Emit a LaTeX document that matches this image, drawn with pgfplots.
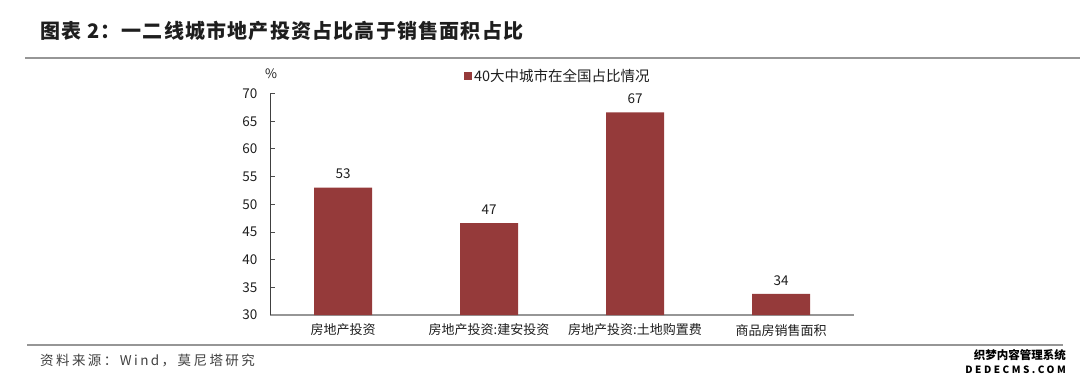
\documentclass[border=0pt]{standalone}
\usepackage{fontspec}
\setmainfont{Noto Sans CJK SC}
\usepackage{pgfplots}
\pgfplotsset{compat=1.18}
\definecolor{barc}{RGB}{149,58,58}
\definecolor{rulec}{RGB}{150,150,150}
\definecolor{txt}{RGB}{30,30,30}
\begin{document}
\begin{tikzpicture}
\path[use as bounding box] (0pt,0pt) rectangle (1080pt,386pt);
% title
\node[anchor=west, inner sep=0pt, font=\fontsize{20}{22}\selectfont\bfseries\addfontfeature{LetterSpace=6}, text=txt] at (40pt,355pt) {图表 2：一二线城市地产投资占比高于销售面积占比};
\draw[rulec, line width=1.6pt] (25pt,328pt) -- (1080pt,328pt);
\draw[rulec, line width=1.6pt] (27pt,41pt) -- (1063pt,41pt);
\node[anchor=west, inner sep=0pt, font=\fontsize{13.5}{15}\selectfont\addfontfeature{LetterSpace=18}, text=black!75] at (40pt,25pt) {资料来源：Wind，莫尼塔研究};
\node[inner sep=0pt, font=\fontsize{13}{15}\selectfont, text=txt] at (271pt,312pt) {\%};
% watermark
\node[anchor=east, inner sep=0pt, font=\fontsize{11.5}{12}\selectfont\bfseries] at (1066pt,31pt) {织梦内容管理系统};
\node[anchor=east, inner sep=0pt, font=\fontsize{10}{11}\selectfont\bfseries\addfontfeature{LetterSpace=25}] at (1066pt,16pt) {DEDECMS.COM};
\begin{axis}[
  at={(270pt,71pt)}, anchor=south west,
  scale only axis, width=584pt, height=221.5pt,
  xmin=-0.5, xmax=3.5, ymin=30, ymax=70,
  ybar, bar width=58pt,
  axis x line=bottom, axis y line=left,
  x axis line style={-, draw=rulec, line width=1.3pt},
  y axis line style={-, draw=black!75, line width=0.8pt},
  ytick={30,35,...,70},
  xtick={0,1,2,3},
  xticklabels={房地产投资,房地产投资:建安投资,房地产投资:土地购置费,商品房销售面积},
  xtick style={draw=none},
  extra x ticks={0.5,1.5,2.5},
  extra x tick labels={},
  extra x tick style={draw=black!70, line width=0.8pt, xtick align=outside},
  ytick align=inside,
  ytick style={draw=black!70, line width=0.8pt},
  major tick length=5pt,
  /pgf/number format/assume math mode=true,
  yticklabel style={font=\fontsize{13.5}{15}\selectfont, text=txt, xshift=-9pt},
  xticklabel style={font=\fontsize{13}{15}\selectfont, text=txt, yshift=-3pt},
  nodes near coords={\pgfmathprintnumber[fixed,precision=0]{\pgfplotspointmeta}},
  every node near coord/.append style={font=\fontsize{13.5}{15}\selectfont, text=txt, yshift=5pt},
  legend style={at={(0.493,1.079)}, anchor=center, draw=none, fill=none, font=\fontsize{14.5}{16}\selectfont, text=txt, inner sep=0pt},
  legend image code/.code={\fill[barc] (0pt,-4pt) rectangle (8pt,4pt);},
]
\addplot[fill=barc, draw=none] coordinates {(0,53.0) (1,46.6) (2,66.6) (3,33.8)};
\addlegendentry{40大中城市在全国占比情况}
\end{axis}
\end{tikzpicture}
\end{document}
